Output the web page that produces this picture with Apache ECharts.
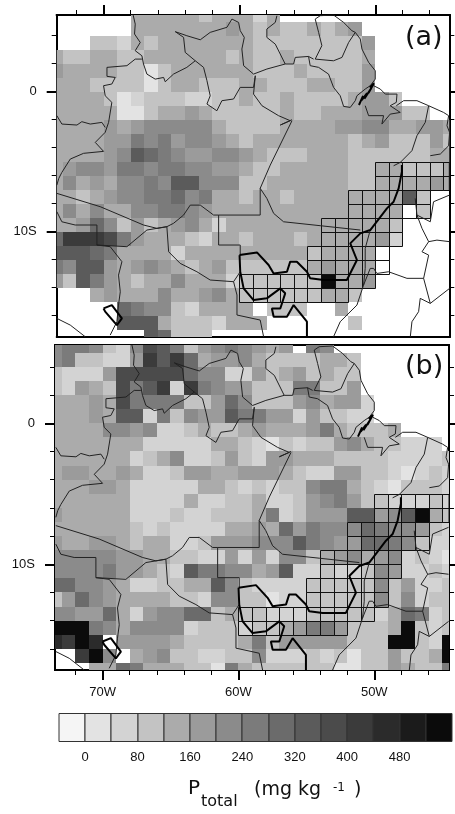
<!DOCTYPE html>
<html>
<head>
<meta charset="utf-8">
<title>Ptotal</title>
<script src="https://cdn.jsdelivr.net/npm/echarts@6/dist/echarts.min.js"></script>
<style>
html,body{margin:0;padding:0;background:#fff}
#chart{width:455px;height:814px}
</style>
</head>
<body>
<div id="chart"></div>
<script>
var _ = null;
// first cell of each row starts at 74W, rows go from 6N downwards, 1 degree cells
var firstLon = -74;
var firstLat = 6;

var panelA = [
[_,_,_,_,_,_,140,140,140,140,140,100,140,140,140,60,140,_,_,_,_,_,_,_,_,_,_,_,_,_],
[_,_,_,_,_,_,140,140,140,140,140,140,140,180,140,100,140,100,100,140,100,140,180,_,_,_,_,_,_,_],
[_,_,_,100,100,60,140,100,140,140,140,140,140,140,140,100,100,100,100,100,100,100,100,180,_,_,_,_,_,_],
[140,100,100,140,140,100,100,140,140,140,140,140,140,100,140,100,100,140,100,100,100,100,100,140,_,_,_,_,_,_],
[180,140,140,140,140,100,100,20,100,140,140,140,140,140,140,100,100,100,140,100,100,100,100,180,_,_,_,_,_,_],
[140,140,140,100,100,100,100,20,100,140,140,100,100,100,140,140,100,100,100,140,140,100,100,180,_,_,_,_,_,_],
[140,140,140,140,100,20,60,100,100,100,60,60,100,100,140,100,100,140,100,100,100,100,140,180,180,100,_,_,_,_],
[140,140,140,140,140,20,20,100,140,140,180,140,100,100,100,100,100,140,100,100,140,140,140,180,180,180,100,100,_,_],
[140,140,140,140,180,140,180,220,220,220,220,220,140,100,100,100,100,140,140,140,140,180,180,220,220,140,140,180,180,140],
[140,140,140,140,180,180,260,220,260,180,220,220,180,140,100,140,140,140,140,140,140,140,100,140,180,100,100,100,180,100],
[140,140,140,140,180,220,340,300,260,220,180,180,220,220,180,140,100,100,100,140,140,140,100,100,100,100,100,100,140,140],
[140,180,220,220,180,260,260,220,260,260,220,220,180,180,140,100,100,140,140,140,140,140,100,100,140,140,100,100,100,140],
[140,220,140,180,140,220,220,260,220,340,340,220,220,220,100,100,140,140,140,140,140,140,100,100,140,140,140,140,180,140],
[140,140,100,140,180,220,220,260,260,300,220,260,140,140,100,140,140,100,140,140,140,140,140,140,140,140,340,100,_,_],
[140,220,140,220,140,140,220,220,260,260,220,180,140,140,140,140,140,140,140,140,140,140,140,140,140,140,_,100,_,_],
[140,140,180,300,220,100,180,100,140,180,220,140,60,140,140,140,140,140,140,140,140,140,140,140,140,100,_,_,_,_],
[300,420,420,420,380,260,180,140,140,140,100,60,140,140,100,140,140,140,100,140,140,140,140,140,180,60,_,_,_,_],
[340,340,340,300,260,140,140,140,140,60,140,140,140,140,140,140,140,140,140,100,140,140,140,140,_,_,_,_,_,_],
[260,220,340,340,180,140,180,220,180,140,100,140,180,100,100,100,100,100,100,140,180,140,140,140,_,_,_,_,_,_],
[180,100,340,260,180,140,100,140,140,220,140,140,140,60,100,100,100,100,100,100,540,140,140,180,_,_,_,_,_,_],
[_,_,_,140,180,140,140,140,220,140,140,180,220,140,100,100,100,100,100,100,140,140,100,_,_,_,_,_,_,_],
[_,_,_,_,_,300,260,220,220,100,60,140,140,140,140,_,100,100,100,_,_,140,_,_,_,_,_,_,_,_],
[_,_,_,_,_,340,340,340,140,100,100,100,60,140,140,140,_,_,_,_,_,_,100,_,_,_,_,_,_,_],
[_,_,_,_,_,_,_,340,300,100,100,100,_,_,_,_,_,_,_,_,_,_,_,_,_,_,_,_,_,_]
];

var panelB = [
[220,260,260,220,100,60,220,380,340,260,100,180,220,260,220,180,140,180,_,260,220,_,_,_,_,_,_,_,_,_],
[220,260,100,100,60,60,180,420,340,420,300,140,180,180,220,140,100,100,100,100,140,140,100,_,_,_,_,_,_,_],
[100,60,60,60,180,380,380,380,380,380,300,220,220,60,60,180,100,140,180,100,140,100,100,_,_,_,_,_,_,_],
[100,60,180,140,100,380,260,340,420,60,420,260,220,180,180,100,100,100,260,260,100,100,180,_,_,_,_,_,_,_],
[140,140,140,180,140,380,260,260,260,260,100,100,180,300,220,100,100,100,180,220,140,180,180,60,_,_,_,_,_,_],
[140,140,140,180,140,340,340,60,260,100,220,180,180,340,260,260,180,180,60,180,100,100,60,60,_,_,_,_,_,_],
[140,140,140,140,220,220,180,220,60,60,100,140,100,100,140,180,140,140,140,180,260,140,100,100,100,140,_,_,_,_],
[140,140,140,140,140,140,140,60,60,60,60,60,140,140,100,60,20,100,60,100,100,180,220,140,100,100,60,60,60,_],
[140,140,140,140,140,140,60,100,140,220,60,60,100,180,100,60,180,180,140,140,140,100,100,100,100,60,60,60,60,100],
[140,180,180,140,140,180,140,60,60,100,180,180,140,140,180,180,180,140,100,60,60,180,180,100,100,60,20,60,100,60],
[140,140,140,180,180,140,60,60,60,60,60,140,140,100,60,100,60,100,100,220,260,260,140,100,60,20,100,100,100,60],
[140,140,140,140,140,140,60,60,60,60,140,60,60,100,100,140,60,60,100,180,220,260,180,100,100,60,60,60,100,60],
[180,140,140,140,140,140,60,60,60,100,60,60,100,100,100,140,260,60,100,180,180,180,340,340,180,220,340,540,140,100],
[140,140,140,140,140,140,100,60,100,60,60,60,60,140,140,180,140,300,180,260,220,220,220,300,260,220,220,180,100,60],
[180,140,140,180,180,140,100,140,140,60,60,100,180,180,180,220,220,220,340,260,220,180,180,300,300,260,220,100,60,60],
[220,220,220,220,220,180,180,140,140,100,100,60,60,180,60,180,60,220,220,100,140,180,220,140,180,220,60,100,60,20],
[220,220,220,220,260,180,180,140,100,60,340,260,260,220,220,140,180,340,60,60,100,60,60,100,220,180,60,60,100,60],
[300,300,220,220,180,140,60,60,100,100,140,140,340,220,100,60,60,60,60,100,100,100,100,100,220,100,180,60,60,100],
[100,180,300,220,180,140,140,140,140,100,100,60,220,220,100,100,20,60,60,100,100,100,100,100,220,100,220,60,100,100],
[220,220,180,180,300,140,60,180,220,220,300,300,100,140,100,100,60,60,60,100,100,100,100,100,60,140,300,260,60,100],
[540,540,540,260,220,140,220,220,220,220,60,100,100,100,60,100,100,140,180,260,260,180,100,100,100,140,540,100,60,100],
[460,420,540,460,_,180,180,180,180,140,100,100,100,100,140,260,100,180,180,180,180,180,100,100,100,540,540,100,60,540],
[_,_,420,540,220,_,140,180,220,100,100,60,60,100,100,220,60,60,60,100,60,100,20,100,100,180,100,100,140,540],
[_,_,_,140,140,300,260,140,140,140,100,100,20,260,140,100,100,100,100,100,100,20,20,100,100,180,140,100,100,260]
];

// colour bar
var levelEdges = [-40,0,40,80,120,160,200,240,280,320,360,400,440,480,520,560];
var levelColors = ['#f5f5f5','#e3e3e3','#d3d3d3','#c3c3c3','#ababab','#9b9b9b','#8b8b8b','#7b7b7b','#6b6b6b','#5b5b5b','#4b4b4b','#3b3b3b','#2b2b2b','#1b1b1b','#0b0b0b'];
var barTicks = [0,80,160,240,320,400,480];

// ticks
var lonMajor = [-70,-60,-50];
var lonMinor = [-72,-68,-66,-64,-62,-58,-56,-54,-52,-48,-46];
var latMajor = [0,-10];
var latMinor = [4,2,-2,-4,-6,-8,-12,-14,-16];

// outlined rows of cells: top latitude, west edge, east edge
var boxLats = [-5,-6,-7,-8,-9,-10,-11,-12,-13,-14];
var boxWest = [-50,-50,-52,-52,-54,-54,-55,-55,-60,-60];
var boxEast = [-44,-44,-46,-46,-48,-48,-49,-49,-50,-52];

var thinBorders = [
[[-67.84,5.55],[-67.67,4.83],[-67.72,4.12],[-67.3,3.52],[-67.67,2.93],[-67.18,2.57],[-67.06,1.98],[-66.81,1.26],[-66.2,.9],[-65.58,1.02],[-65.46,.71],[-64.85,1.26],[-63.87,1.74],[-63.25,2.21],[-63.99,2.81],[-64.11,3.88],[-64.72,4.29],[-63.87,4],[-62.88,3.71],[-62.15,4.24],[-60.92,4.6],[-60.55,5.19],[-60.06,4.95],[-59.94,4.36],[-59.64,3.88],[-59.82,3.05],[-59.69,1.86],[-58.96,1.26],[-57.98,1.62],[-56.63,1.98],[-56.01,1.98],[-55.89,2.45],[-54.91,2.52],[-54.54,2.33]],
[[-63.25,2.21],[-62.64,1.74],[-62.39,.79],[-62.15,-.29],[-62.39,-.88],[-61.66,-1.36],[-61.29,-.64],[-60.43,-.52],[-59.94,.31],[-58.96,.31],[-58.83,1.14]],
[[-58.83,1.14],[-58.96,-.17],[-58.34,-1],[-57.12,-1.71],[-56.26,-2.07],[-56.99,-2.38],[-56.13,-2]],
[[-56.13,-2.07],[-57.73,-5.24],[-58.47,-6.9],[-57.98,-7.62],[-57.48,-8.69],[-56.75,-9.29],[-54.05,-9.57],[-51.1,-9.88]],
[[-58.47,-6.9],[-58.47,-8.81],[-61.53,-8.81],[-61.53,-10.95],[-59.94,-10.95],[-59.94,-11.67]],
[[-57.24,5.43],[-57.36,4.95],[-57.98,4.48],[-57.98,3.88],[-57.36,3.4],[-56.63,1.98]],
[[-54.42,5.19],[-54.05,5.43],[-53.07,5.48],[-52.33,4.95],[-51.72,4.36],[-51.47,4.24],[-51.1,3.76],[-50.98,3.05],[-50.49,2.1],[-50,1.5],[-50,.9],[-50.37,.43],[-50.74,.19],[-51.35,-.29],[-51.47,-.64],[-51.84,-1.12],[-52.33,-1.05],[-52.58,-.29],[-53.07,.31],[-53.44,1.26],[-54.17,1.74],[-54.79,1.86],[-54.91,2.52]],
[[-54.42,5.19],[-54.17,4.24],[-53.93,3.29],[-54.42,2.33],[-53.07,2.21],[-52.45,2.45],[-51.96,3.52],[-51.47,4.24]],
[[-50.74,-1],[-50.49,-1.71],[-49.39,-1.71],[-49.51,-2.31],[-48.9,-1.6],[-48.16,-1.48],[-48.9,-1],[-48.45,-.76],[-48.4,-.17],[-49.26,-.17],[-49.63,.19],[-50.12,.43]],
[[-48.45,-1],[-47.91,-.64],[-46.93,-.64],[-46.07,-1],[-44.97,-1.48],[-44.6,-1.71],[-44.72,-2.43],[-44.53,-2.9],[-44.6,-3.86],[-45.21,-4.45],[-45.95,-4.57]],
[[-46.07,-1],[-46.32,-2.19],[-46.93,-3.14],[-47.3,-4.21],[-48.16,-5.05],[-48.65,-5.29]],
[[-73.44,-1.71],[-73.07,-2.31],[-71.96,-2.38],[-71.6,-2.14],[-70.98,-2.31],[-70.12,-2.19],[-69.88,-2.55]],
[[-67.18,2.33],[-67.67,2.33],[-68.28,1.86],[-69.75,1.74],[-69.75,1.1],[-69.14,1.02],[-69.39,.55],[-70,.43],[-69.88,-.29],[-69.39,-.76],[-69.63,-2.19],[-69.88,-2.9],[-70.61,-3.62],[-70,-4.26],[-71.47,-4.4],[-72.45,-4.81],[-73.07,-5.76],[-73.3,-6.2],[-73.44,-6.67]],
[[-73.44,-7.26],[-70.25,-8.21],[-67.06,-9.52],[-66.07,-9.76],[-65.34,-9.64]],
[[-73.44,-8.57],[-73.07,-9.29],[-72.09,-9.52],[-70.49,-9.52],[-70.49,-10.95],[-69.51,-11.07],[-68.65,-12.14],[-68.9,-13.1],[-68.77,-14.29],[-68.9,-15.24],[-69.02,-16.43],[-69.51,-17.38]],
[[-70.49,-10.95],[-68.28,-11.07],[-66.81,-9.88],[-65.34,-9.64]],
[[-65.34,-9.64],[-65.21,-11.43],[-64.36,-12.26],[-63.13,-12.86],[-62.15,-13.45],[-60.43,-13.57],[-60.18,-14.52],[-60.18,-15.95],[-58.47,-16.31],[-58.22,-17.5]],
[[-60.43,-13.57],[-59.94,-12.86]],
[[-65.34,-9.64],[-64.85,-9.4],[-64.11,-8.81],[-63.62,-8.1],[-62.88,-8.1],[-61.9,-8.81],[-61.53,-8.81]],
[[-73.44,-16.19],[-72.45,-16.67],[-71.35,-17.5]],
[[-50.86,-13.81],[-50.37,-12.62],[-50.12,-12.62],[-49.88,-12.98],[-49.02,-12.86],[-47.67,-13.33],[-46.44,-13.33],[-45.95,-15.12],[-44.53,-14.05]],
[[-50.86,-13.81],[-51.35,-15.24],[-52.58,-16.43],[-53.07,-17.5]],
[[-46.44,-13.33],[-46.07,-11.67],[-46.56,-11.43],[-46.07,-10.71],[-46.56,-9.76],[-46.93,-8.81],[-47.06,-7.62]],
[[-46.07,-10.71],[-45.46,-10.6],[-44.53,-10.71]],
[[-46.93,-8.81],[-45.95,-9.29],[-45.71,-7.86],[-44.53,-7.38]],
[[-45.95,-15.12],[-46.69,-14.76],[-46.81,-15.71],[-47.3,-16.43],[-47.42,-17.5]],
[[-50.37,-9.88],[-50.74,-11.19],[-50.74,-12.62],[-50.86,-13.81]]
];

var thickBorders = [
[[-59.99,-11.67],[-58.71,-11.48],[-57.85,-12.38],[-57.48,-12.98],[-56.5,-12.86],[-56.26,-12.14],[-55.77,-12.14],[-55.03,-12.86],[-54.79,-13.33],[-53.8,-13.45],[-52.09,-13.45],[-51.35,-12.02],[-51.84,-10.83],[-51.1,-10.12],[-50.37,-9.88],[-49.14,-8.33],[-48.65,-7.86],[-48.28,-6.9],[-48.04,-5.71],[-48.04,-5.24]],
[[-59.99,-11.67],[-59.94,-12.86],[-59.69,-14.05],[-58.96,-14.88],[-57.98,-14.76],[-56.99,-14.05],[-56.63,-14.4],[-56.99,-15.48],[-57.61,-15.48],[-57.48,-16.07],[-56.5,-16.07],[-56.01,-15.24],[-55.03,-16.43],[-55.03,-17.5]],
[[-70,-15.48],[-69.39,-15.24],[-68.65,-16.19],[-69.02,-16.67],[-69.88,-15.71],[-70,-15.48]],
[[-51.2,-.95],[-50.9,-.3],[-51,-.6],[-50.6,-.1],[-50.8,-.5],[-50.3,.25],[-50.5,-.1],[-50.1,.6],[-50.4,.3]]
];

function colorOf(v) {
  for (var i = 0; i < levelColors.length; i++) {
    if (v < levelEdges[i + 1]) return levelColors[i];
  }
  return levelColors[levelColors.length - 1];
}

function cellsOf(rows) {
  var out = [];
  for (var r = 0; r < rows.length; r++) {
    for (var c = 0; c < rows[r].length; c++) {
      if (rows[r][c] !== null) out.push([firstLon + c, firstLat - r, rows[r][c]]);
    }
  }
  return out;
}

function renderCell(params, api) {
  var p0 = api.coord([api.value(0), api.value(1)]);
  var p1 = api.coord([api.value(0) + 1, api.value(1) - 1]);
  var rect = echarts.graphic.clipRectByRect({
    x: Math.round(p0[0]), y: Math.round(p0[1]),
    width: Math.round(p1[0]) - Math.round(p0[0]),
    height: Math.round(p1[1]) - Math.round(p0[1])
  }, params.coordSys);
  if (!rect) return;
  return {type: 'rect', shape: rect, style: {fill: colorOf(api.value(2))}};
}

function boxCells() {
  var out = [];
  for (var i = 0; i < boxLats.length; i++) {
    for (var lon = boxWest[i]; lon < boxEast[i]; lon++) out.push([lon, boxLats[i]]);
  }
  return out;
}

function renderBox(params, api) {
  var p0 = api.coord([api.value(0), api.value(1)]);
  var p1 = api.coord([api.value(0) + 1, api.value(1) - 1]);
  var rect = echarts.graphic.clipRectByRect({
    x: Math.round(p0[0]) + 0.5, y: Math.round(p0[1]) + 0.5,
    width: Math.round(p1[0]) - Math.round(p0[0]),
    height: Math.round(p1[1]) - Math.round(p0[1])
  }, params.coordSys);
  if (!rect) return;
  return {type: 'rect', shape: rect, style: {fill: null, stroke: '#111', lineWidth: 1}};
}

function renderBar(params, api) {
  var p0 = api.coord([api.value(0), 1]);
  var p1 = api.coord([api.value(1), 0]);
  return {
    type: 'rect',
    shape: {x: Math.round(p0[0]), y: p0[1], width: Math.round(p1[0]) - Math.round(p0[0]), height: p1[1] - p0[1]},
    style: {fill: levelColors[api.value(2)], stroke: '#333', lineWidth: 1}
  };
}

var lonRangeA = [-73.45, -44.55], latRangeA = [-17.52, 5.48];
var lonRangeB = [-73.5, -44.5], latRangeB = [-17.5, 5.55];
var frame = {show: true, onZero: false, lineStyle: {color: '#000', width: 2}};

var grids = [], xAxes = [], yAxes = [], seriesList = [];

// adds one panel, major ticks and the data sit on one grid, minor ticks on a second one over it
function addPanel(rows, box, lonRange, latRange, xPos, showLonLabel) {
  var g = grids.length;
  grids.push(box, box);
  var x0 = xAxes.length, y0 = yAxes.length;
  function xAxis(grid, pos, ticks, len, label) {
    return {
      type: 'value', gridIndex: grid, position: pos, min: lonRange[0], max: lonRange[1],
      splitLine: {show: false}, axisLine: frame,
      axisTick: ticks ? {show: true, customValues: ticks, length: len, lineStyle: {color: '#000', width: len > 6 ? 2 : 1}} : {show: false},
      axisLabel: label ? {show: true, customValues: lonMajor, margin: 16, color: '#111', fontSize: 13, fontFamily: 'Liberation Sans',
        formatter: function (v) { return Math.abs(v) + 'W'; }} : {show: false}
    };
  }
  function yAxis(grid, pos, ticks, len, label) {
    return {
      type: 'value', gridIndex: grid, position: pos, min: latRange[0], max: latRange[1],
      splitLine: {show: false}, axisLine: frame,
      axisTick: ticks ? {show: true, customValues: ticks, length: len, lineStyle: {color: '#000', width: len > 6 ? 2 : 1}} : {show: false},
      axisLabel: label ? {show: true, customValues: latMajor, margin: 20, color: '#111', fontSize: 13, fontFamily: 'Liberation Sans',
        formatter: function (v) { return v === 0 ? '0' : Math.abs(v) + 'S'; }} : {show: false}
    };
  }
  var other = xPos === 'top' ? 'bottom' : 'top';
  xAxes.push(xAxis(g, xPos, lonMajor, 10, showLonLabel), xAxis(g, other, null, 0, false),
             xAxis(g + 1, xPos, lonMinor, 5, false));
  yAxes.push(yAxis(g, 'left', latMajor, 10, true), yAxis(g, 'right', latMajor, 10, false),
             yAxis(g + 1, 'left', latMinor, 5, false), yAxis(g + 1, 'right', latMinor, 5, false));
  seriesList.push({
    type: 'custom', xAxisIndex: x0, yAxisIndex: y0, renderItem: renderCell, silent: true, z: 1,
    data: cellsOf(rows)
  });
  seriesList.push({
    type: 'custom', xAxisIndex: x0, yAxisIndex: y0, renderItem: renderBox, silent: true, z: 2,
    data: boxCells()
  });
  thinBorders.forEach(function (line) {
    seriesList.push({type: 'line', xAxisIndex: x0, yAxisIndex: y0, data: line, symbol: 'none', silent: true, z: 3,
      lineStyle: {color: '#222', width: 1}});
  });
  thickBorders.forEach(function (line) {
    seriesList.push({type: 'line', xAxisIndex: x0, yAxisIndex: y0, data: line, symbol: 'none', silent: true, z: 4,
      lineStyle: {color: '#000', width: 2}});
  });
}

addPanel(panelA, {left: 56.7, top: 15, width: 392.6, height: 322}, lonRangeA, latRangeA, 'top', false);
addPanel(panelB, {left: 55, top: 345, width: 394, height: 325}, lonRangeB, latRangeB, 'bottom', true);

// colour bar grid
var barGrid = grids.length;
grids.push({left: 59, top: 713.5, width: 393, height: 28});
xAxes.push({
  type: 'value', gridIndex: barGrid, position: 'bottom', min: -40, max: 560, interval: 40,
  splitLine: {show: false}, axisLine: {show: false}, axisTick: {show: false},
  axisLabel: {show: true, customValues: barTicks, margin: 9, color: '#111', fontSize: 13, fontFamily: 'Liberation Sans'}
});
yAxes.push({type: 'value', gridIndex: barGrid, min: 0, max: 1, show: false});
seriesList.push({
  type: 'custom', xAxisIndex: xAxes.length - 1, yAxisIndex: yAxes.length - 1, renderItem: renderBar, silent: true,
  data: levelColors.map(function (c, i) { return [levelEdges[i], levelEdges[i + 1], i]; })
});

var textFont = 'DejaVu Sans';
var chart = echarts.init(document.getElementById('chart'), null, {renderer: 'canvas'});
chart.setOption({
  animation: false,
  backgroundColor: '#fff',
  grid: grids,
  xAxis: xAxes,
  yAxis: yAxes,
  series: seriesList,
  graphic: [
    {type: 'text', left: 405, top: 24, z: 100, style: {text: '(a)', font: '27px ' + textFont, fill: '#111'}},
    {type: 'text', left: 405, top: 353, z: 100, style: {text: '(b)', font: '27px ' + textFont, fill: '#111'}},
    {type: 'text', left: 188, top: 779, style: {text: 'P', font: '20px ' + textFont, fill: '#111'}},
    {type: 'text', left: 201, top: 794, style: {text: 'total', font: '16px ' + textFont, fill: '#111'}},
    {type: 'text', left: 254, top: 781, style: {text: '(mg kg', font: '19px ' + textFont, fill: '#111'}},
    {type: 'text', left: 333, top: 782, style: {text: '-1', font: '12px ' + textFont, fill: '#111'}},
    {type: 'text', left: 354, top: 781, style: {text: ')', font: '19px ' + textFont, fill: '#111'}}
  ]
});
</script>
</body>
</html>
